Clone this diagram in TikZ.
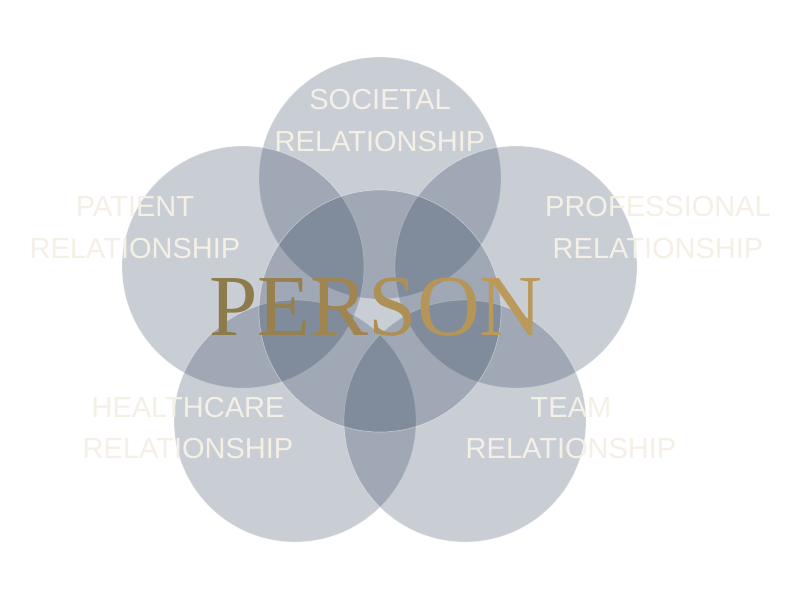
\documentclass[tikz,border=0pt]{standalone}
\usepackage{fontspec}
\setmainfont{Liberation Serif}
\newfontfamily\labelfont{Liberation Sans}
\definecolor{petal}{RGB}{30,51,80}
\definecolor{cream}{RGB}{245,240,230}
\definecolor{goldA}{RGB}{142,123,75}
\definecolor{goldB}{RGB}{150,128,78}
\definecolor{goldC}{RGB}{160,133,80}
\definecolor{goldD}{RGB}{173,144,86}
\definecolor{goldE}{RGB}{181,150,88}
\definecolor{goldF}{RGB}{186,153,90}
\tikzset{
  petalcircle/.style={fill=petal, fill opacity=0.24, draw=white, draw opacity=0.4, line width=0.7pt},
  rellabel/.style={text=cream, font=\labelfont\fontsize{29}{41.5}\selectfont, align=center, inner sep=0pt},
  centerlabel/.style={font=\fontsize{87}{90}\selectfont, inner sep=0pt, anchor=base}
}
\begin{document}
\begin{tikzpicture}[x=1pt, y=-1pt]
\useasboundingbox (0,0) rectangle (800,600);
\fill[white] (0,0) rectangle (800,600);
\coordinate (ctop) at (380,178);
\coordinate (cmid) at (380,311);
\coordinate (cleft) at (243,267);
\coordinate (cright) at (516,267);
\coordinate (cbl) at (295,421);
\coordinate (cbr) at (465,421);
\foreach \c in {ctop,cleft,cright,cbl,cbr,cmid}
  \path[petalcircle] (\c) circle[radius=121pt];
\node[rellabel] (societal) at (380,120.5) {SOCIETAL\\RELATIONSHIP};
\node[rellabel] (patient) at (135,227.5) {PATIENT\\RELATIONSHIP};
\node[rellabel] (professional) at (658,227.5) {PROFESSIONAL\\RELATIONSHIP};
\node[rellabel] (healthcare) at (188,428) {HEALTHCARE\\RELATIONSHIP};
\node[rellabel] (team) at (571,428) {TEAM\\RELATIONSHIP};
\node[centerlabel] (person) at (376,335) {\textcolor{goldA}{P}\textcolor{goldB}{E}\textcolor{goldC}{R}\textcolor{goldD}{S}\textcolor{goldE}{O}\textcolor{goldF}{N}};
\end{tikzpicture}
\end{document}
